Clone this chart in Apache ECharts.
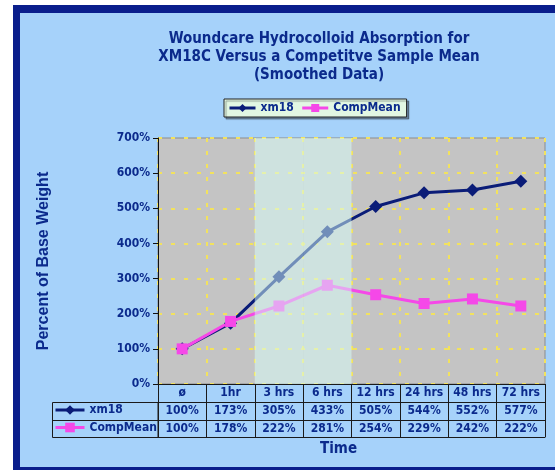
<!DOCTYPE html>
<html>
<head>
<meta charset="utf-8">
<script src="https://cdn.jsdelivr.net/npm/echarts@6/dist/echarts.min.js"></script>
<style>
html,body{margin:0;padding:0;background:#fff;}
#chart{width:555px;height:470px;}
</style>
</head>
<body>
<div id="chart"></div>
<script>
// ---- data ----
const categories = ['ø', '1hr', '3 hrs', '6 hrs', '12 hrs', '24 hrs', '48 hrs', '72 hrs'];
const xm18 = [100, 173, 305, 433, 505, 544, 552, 577];
const compMean = [100, 178, 222, 281, 254, 229, 242, 222];
const highlightCats = ['3 hrs', '6 hrs'];
const yMin = 0, yMax = 700, yStep = 100;

const NAVY = '#0b2a8c';
const LINE_NAVY = '#0a1c78';
const PINK = '#f548e8';
const FONT = '"DejaVu Sans Condensed", "DejaVu Sans"';

const highlightData = categories.map(c => highlightCats.indexOf(c) >= 0 ? yMax : null);

const chart = echarts.init(document.getElementById('chart'), null, {renderer: 'canvas'});

const lblStyle = {fontFamily: FONT, fontWeight: 'bold', fontSize: 12, color: NAVY};
const tableLine = {color: '#1a1a1a', width: 1};

function tableAxis(offset, formatter, tickLen, showLabel) {
  return {
    type: 'category', data: categories, position: 'bottom', offset: offset,
    boundaryGap: true,
    axisLine: {show: true, lineStyle: tableLine},
    axisTick: {show: tickLen > 0, length: tickLen, interval: 0, lineStyle: tableLine},
    axisLabel: Object.assign({show: showLabel, interval: 0, margin: 3, formatter: formatter}, lblStyle),
    splitLine: {show: false}
  };
}

const option = {
  backgroundColor: '#ffffff',
  animation: false,
  title: {
    text: 'Woundcare Hydrocolloid Absorption for\nXM18C Versus a Competitve Sample Mean\n(Smoothed Data)',
    left: 314, top: 25, textAlign: 'center',
    textStyle: {fontFamily: FONT, fontWeight: 'bold', fontSize: 15, color: NAVY, lineHeight: 18}
  },
  legend: [{
    data: ['xm18', 'CompMean'],
    left: 224, top: 99,
    itemWidth: 26, itemHeight: 10, itemGap: 7,
    padding: [3, 6, 3, 4],
    backgroundColor: '#e2f7e3', borderColor: '#222', borderWidth: 1,
    shadowColor: 'rgba(0,0,0,0.35)', shadowOffsetX: 2, shadowOffsetY: 2, shadowBlur: 1,
    lineStyle: {width: 3},
    textStyle: lblStyle
  }, {
    data: ['xm18', 'CompMean'],
    orient: 'vertical', left: 54, top: 404,
    itemWidth: 29, itemHeight: 12, itemGap: 5.5,
    padding: 0,
    lineStyle: {width: 3},
    textStyle: lblStyle
  }],
  grid: {
    left: 158, right: 10, top: 138, bottom: 86,
    show: true, backgroundColor: '#c4c4c4', borderColor: '#8c8c8c', borderWidth: 1
  },
  xAxis: [
    Object.assign(tableAxis(0, v => v, 18, true), {
      splitLine: {show: true, interval: 0, lineStyle: {color: '#f2e25e', width: 2, type: [4, 9]}}
    }),
    tableAxis(18, (v, i) => xm18[i] + '%', 18, true),
    tableAxis(36, (v, i) => compMean[i] + '%', 17, true),
    tableAxis(53, v => '', 0, false)
  ],
  yAxis: {
    type: 'value', min: yMin, max: yMax, interval: yStep,
    name: 'Percent of Base Weight', nameLocation: 'middle', nameGap: 106, nameRotate: 90,
    nameTextStyle: {fontFamily: 'Liberation Sans', fontWeight: 'bold', fontSize: 16, color: NAVY},
    axisLine: {show: true, lineStyle: {color: '#111', width: 1}},
    axisTick: {show: true, length: 5, lineStyle: {color: '#111'}},
    axisLabel: Object.assign({formatter: '{value}%', margin: 8}, lblStyle),
    splitLine: {show: true, lineStyle: {color: '#f2e25e', width: 2, type: [4, 9]}}
  },
  graphic: [
    {type: 'rect', z: -20, shape: {x: 13, y: 5, width: 600, height: 470}, style: {fill: '#0a1e8c'}},
    {type: 'rect', z: -19, shape: {x: 20, y: 13, width: 600, height: 454}, style: {fill: '#a6d2fa'}},
    {type: 'rect', z: 10, shape: {x: 52.5, y: 402.5, width: 105.5, height: 35}, style: {fill: 'none', stroke: '#1a1a1a', lineWidth: 1}},
    {type: 'line', z: 10, shape: {x1: 52.5, y1: 420.5, x2: 158, y2: 420.5}, style: {stroke: '#1a1a1a', lineWidth: 1}},
    {type: 'text', z: 10, left: 320, top: 442, style: {text: 'Time', font: 'bold 15px "DejaVu Sans Condensed", "DejaVu Sans"', fill: NAVY}}
  ],
  series: [
    {
      name: 'xm18', type: 'line', data: xm18, z: 2,
      symbol: 'diamond', symbolSize: 13,
      lineStyle: {color: LINE_NAVY, width: 3},
      itemStyle: {color: LINE_NAVY}
    },
    {
      name: 'CompMean', type: 'line', data: compMean, z: 2,
      symbol: 'rect', symbolSize: 11,
      lineStyle: {color: PINK, width: 3},
      itemStyle: {color: PINK}
    },
    {
      name: 'highlight', type: 'bar', data: highlightData, z: 5,
      barCategoryGap: '0%', barWidth: '100%',
      itemStyle: {color: 'rgba(215,255,250,0.5)'},
      emphasis: {disabled: true}, silent: true
    }
  ]
};
chart.setOption(option);
</script>
</body>
</html>
